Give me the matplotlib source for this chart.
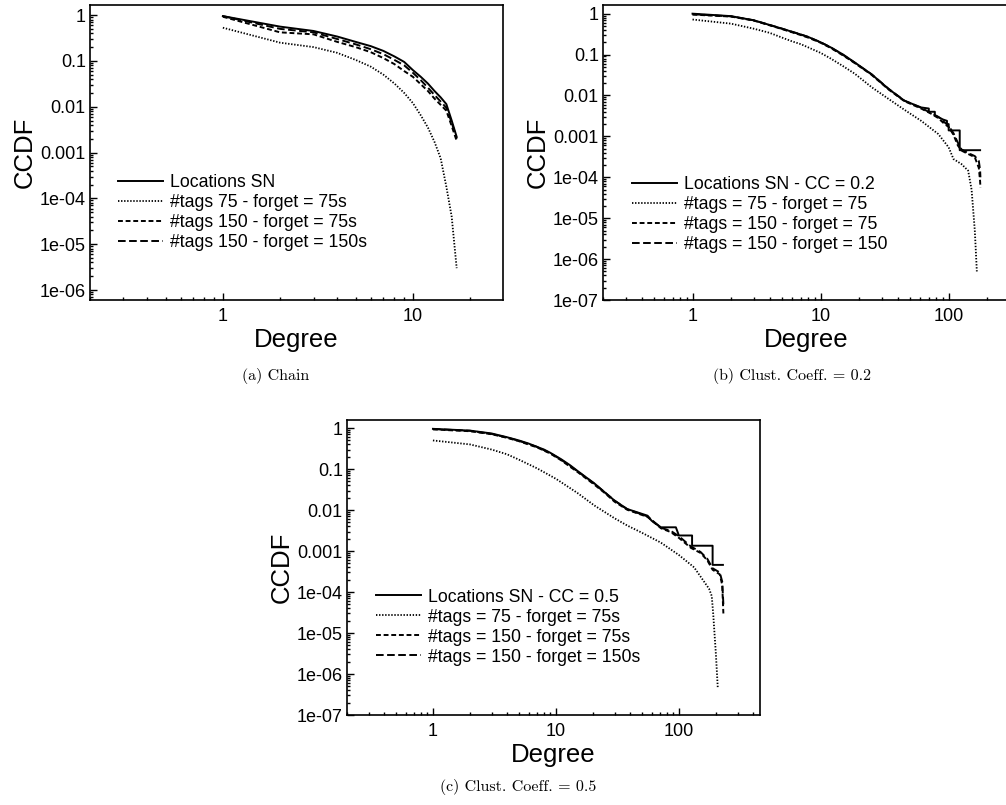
import matplotlib
matplotlib.use("Agg")
import matplotlib.pyplot as plt
from matplotlib.ticker import LogLocator, NullFormatter

plt.rcParams['font.family'] = ['Liberation Sans', 'DejaVu Sans']
plt.rcParams['lines.scale_dashes'] = False

### tick labels
y_ticks = [1, 0.1, 0.01, 0.001, 1e-4, 1e-5, 1e-6, 1e-7]
y_labels = ["1", "0.1", "0.01", "0.001", "1e-04", "1e-05", "1e-06", "1e-07"]
x_ticks = [1, 10, 100]
x_labels = ["1", "10", "100"]

### (a) chain
deg_a = list(range(1, 18))
a_sn = [0.95, 0.56, 0.45, 0.34, 0.26, 0.21, 0.165, 0.125, 0.095, 0.063,
        0.045, 0.032, 0.022, 0.016, 0.0114, 0.005, 0.0022]
a_t75 = [0.53, 0.25, 0.2, 0.15, 0.105, 0.075, 0.05, 0.032, 0.02, 0.012,
         0.0065, 0.0035, 0.0017, 7.5e-4, 1.8e-4, 4e-5, 3e-6]
a_t150_f75 = [0.92, 0.42, 0.38, 0.26, 0.2, 0.155, 0.115, 0.085, 0.06, 0.045,
              0.031, 0.022, 0.015, 0.011, 0.0082, 0.0038, 0.0018]
a_t150_f150 = [0.95, 0.5, 0.42, 0.3, 0.23, 0.18, 0.14, 0.105, 0.08, 0.055,
               0.038, 0.026, 0.018, 0.013, 0.0095, 0.0045, 0.002]
labels_a = ["Locations SN", "#tags 75 - forget = 75s",
            "#tags 150 - forget = 75s", "#tags 150 - forget = 150s"]

### (b) clust. coeff. 0.2
deg_b_sn = [1, 2, 3, 4, 5, 6, 7, 8, 10, 12, 15, 18.5, 25, 34, 45, 55, 61, 70, 70,
            78, 78, 90, 97, 97, 100, 100, 122, 122, 176]
b_sn = [1.0, 0.87, 0.69, 0.53, 0.43, 0.36, 0.31, 0.27, 0.2, 0.15, 0.1, 0.064,
        0.033, 0.0144, 0.0075, 0.0058, 0.0051, 0.0048, 0.004, 0.004, 0.0033,
        0.0026, 0.0024, 0.002, 0.002, 0.0014, 0.0014, 4.6e-4, 4.6e-4]
deg_b_t75 = [1, 2, 3, 4, 5, 6, 7, 8, 10, 12, 15, 18.5, 25, 34, 45, 61, 83,
             100, 109, 126, 142, 151, 160, 166]
b_t75 = [0.72, 0.57, 0.43, 0.34, 0.26, 0.21, 0.18, 0.15, 0.11, 0.08, 0.052,
         0.034, 0.016, 0.0082, 0.0045, 0.0024, 0.00114, 5.4e-4, 2.8e-4, 2.1e-4,
         1.45e-4, 5e-5, 5e-6, 5e-7]
deg_b_t150 = [1, 2, 3, 4, 5, 6, 7, 8, 10, 12, 15, 18.5, 25, 34, 45, 61, 74, 83,
              93, 100, 109, 118, 126, 140, 160, 172, 176, 177]
b_t150_f75 = [0.95, 0.85, 0.68, 0.52, 0.42, 0.35, 0.3, 0.26, 0.195, 0.145,
              0.095, 0.062, 0.032, 0.014, 0.0073, 0.0048, 0.0035, 0.0028,
              0.002, 0.0017, 0.0011, 6e-4, 4.5e-4, 3.8e-4, 3.1e-4, 1.7e-4,
              8e-5, 5.6e-5]
b_t150_f150 = [0.97, 0.86, 0.69, 0.53, 0.43, 0.36, 0.31, 0.27, 0.2, 0.15,
               0.098, 0.063, 0.033, 0.0145, 0.0075, 0.005, 0.0036, 0.003,
               0.0022, 0.0018, 0.0012, 7e-4, 4.8e-4, 4e-4, 3.3e-4, 2.5e-4,
               1.5e-4, 1e-4]
labels_b = ["Locations SN - CC = 0.2", "#tags = 75 - forget = 75",
            "#tags = 150 - forget = 75", "#tags = 150 - forget = 150"]

### (c) clust. coeff. 0.5
deg_c_sn = [1, 2, 3, 4, 5, 6, 7, 8, 9, 11, 13, 15, 17, 20.5, 25, 30, 38, 46,
            55.6, 60, 66, 71.5, 94.5, 100, 128, 128, 188, 188, 228]
c_sn = [0.96, 0.87, 0.74, 0.6, 0.5, 0.42, 0.35, 0.3, 0.25, 0.175, 0.125,
        0.09, 0.068, 0.045, 0.027, 0.017, 0.0106, 0.0088, 0.0073, 0.0055,
        0.0045, 0.0038, 0.0038, 0.0024, 0.0024, 0.00135, 0.00135, 4.6e-4,
        4.6e-4]
deg_c_t75 = [1, 2, 3, 4, 5, 7, 10, 15, 20.5, 30, 38, 50, 71.5, 100, 133, 176,
             185, 190, 200, 207]
c_t75 = [0.5, 0.4, 0.3, 0.23, 0.17, 0.105, 0.058, 0.026, 0.013, 0.0063,
         0.0042, 0.0028, 0.0016, 8e-4, 4e-4, 1.2e-4, 8e-5, 3e-5, 3e-6, 4.7e-7]
deg_c_t150 = [1, 2, 3, 4, 5, 7, 9, 11, 13, 15, 20.5, 25, 30, 38, 55.6, 71.5,
              86, 100, 125, 150, 170, 188, 215, 225, 230]
c_t150_f75 = [0.93, 0.84, 0.71, 0.58, 0.48, 0.34, 0.24, 0.165, 0.115, 0.085,
              0.042, 0.026, 0.016, 0.0102, 0.0068, 0.0036, 0.0029, 0.0021,
              0.0012, 9e-4, 6e-4, 3.5e-4, 2.7e-4, 1.5e-4, 3e-5]
c_t150_f150 = [0.95, 0.86, 0.72, 0.59, 0.49, 0.35, 0.245, 0.17, 0.12, 0.088,
               0.044, 0.027, 0.017, 0.0105, 0.007, 0.0037, 0.0031, 0.0023,
               0.0013, 9.5e-4, 6.5e-4, 3.8e-4, 3e-4, 1.8e-4, 5e-5]
labels_c = ["Locations SN - CC = 0.5", "#tags = 75 - forget = 75s",
            "#tags = 150 - forget = 75s", "#tags = 150 - forget = 150s"]

styles = [dict(ls='-', lw=1.4),
          dict(ls=(0, (1.0, 1.2)), lw=1.3),
          dict(ls=(0, (3.5, 2.0)), lw=1.4),
          dict(ls=(0, (5.5, 2.5)), lw=1.4)]

fig = plt.figure(figsize=(10.06, 8.05), dpi=100)


def panel(rect, xlim, ylim, series, labels, leg_xy, caption, cap_xy):
    ax = fig.add_axes(rect)
    for (xs, ys), lab, st in zip(series, labels, styles):
        ax.plot(xs, ys, color='black', label=lab, **st)
    ax.set_xscale('log')
    ax.set_yscale('log')
    ax.set_yticks(y_ticks, y_labels)
    ax.set_xticks(x_ticks, x_labels)
    ax.yaxis.set_minor_locator(LogLocator(base=10, subs=range(2, 10), numticks=20))
    ax.xaxis.set_minor_locator(LogLocator(base=10, subs=range(2, 10), numticks=20))
    ax.yaxis.set_minor_formatter(NullFormatter())
    ax.xaxis.set_minor_formatter(NullFormatter())
    ax.set_ylim(*ylim)
    ax.set_xlim(*xlim)
    ax.tick_params(which='both', direction='in', top=False, right=False,
                   labelsize=13, width=1.0)
    ax.tick_params(which='major', length=5)
    ax.tick_params(which='minor', length=2.5)
    ax.tick_params(axis='y', pad=3)
    ax.tick_params(axis='x', pad=6)
    for sp in ax.spines.values():
        sp.set_linewidth(1.2)
    ax.set_xlabel("Degree", fontsize=18.5, labelpad=2)
    ax.set_ylabel("CCDF", fontsize=18.5, labelpad=2)
    ax.legend(loc='center left', bbox_to_anchor=leg_xy, frameon=False,
              fontsize=12.7, handlelength=2.55, handletextpad=0.4,
              labelspacing=0.17, borderaxespad=0, borderpad=0)
    fig.text(cap_xy[0], cap_xy[1], caption, family='cmr10', fontsize=11.5,
             ha='center', va='center')
    return ax


panel([0.0895, 0.6273, 0.4105, 0.3665], (0.2, 29.8), (6.05e-7, 1.66),
      [(deg_a, a_sn), (deg_a, a_t75), (deg_a, a_t150_f75), (deg_a, a_t150_f150)],
      labels_a, (0.068, 0.295), "(a) Chain", (276 / 1006, 1 - 376 / 805))

panel([0.5994, 0.6273, 0.4036, 0.3665], (0.2, 296), (1e-7, 1.63),
      [(deg_b_sn, b_sn), (deg_b_t75, b_t75), (deg_b_t150, b_t150_f75),
       (deg_b_t150, b_t150_f150)],
      labels_b, (0.072, 0.29), "(b) Clust. Coeff. = 0.2",
      (792 / 1006, 1 - 376 / 805))

panel([0.3449, 0.1118, 0.4105, 0.3665], (0.2, 456), (1e-7, 1.58),
      [(deg_c_sn, c_sn), (deg_c_t75, c_t75), (deg_c_t150, c_t150_f75),
       (deg_c_t150, c_t150_f150)],
      labels_c, (0.07, 0.298), "(c) Clust. Coeff. = 0.5",
      (518 / 1006, 1 - 787 / 805))

fig.savefig("out.png", dpi=100)
